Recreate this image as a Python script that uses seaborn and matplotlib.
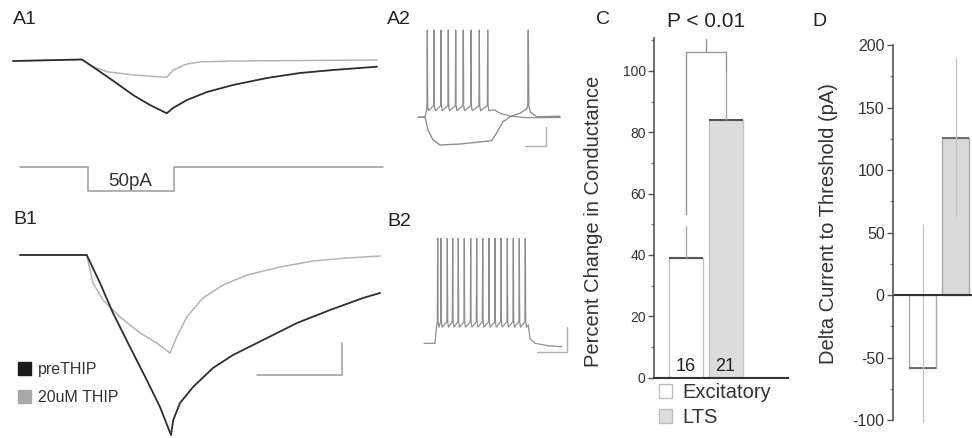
import matplotlib.pyplot as plt
import seaborn as sns
import pandas as pd
from matplotlib.patches import Patch
from matplotlib.ticker import MultipleLocator


# ======================================================
# Style
# ======================================================
sns.set_theme(style="white")
plt.rcParams["font.family"] = ["Liberation Sans", "DejaVu Sans"]
plt.rcParams["axes.unicode_minus"] = False


# ======================================================
# Data
# ======================================================
# A1: current-clamp response to a -50 pA step (time ms, delta V mV)
a1_pre_t = [0, 276, 348, 415, 480, 548, 615, 640, 696, 776, 880, 1016, 1148, 1280, 1456]
a1_pre_v = [0, 0.15, -1.07, -2.23, -3.4, -4.4, -5.23, -4.7, -3.9, -3.1, -2.4, -1.7, -1.2, -0.9, -0.57]
a1_thip_t = [0, 276, 321, 375, 481, 615, 641, 695, 748, 880, 1456]
a1_thip_v = [0, 0.15, -0.57, -1.07, -1.4, -1.63, -0.9, -0.3, -0.1, 0, 0.1]

# command step (time ms, current pA)
cmd_t = [28, 300, 300, 644, 644, 1480]
cmd_i = [0, 0, -50, -50, 0, 0]

# B1
b1_pre_t = [28, 295, 348, 400, 468, 535, 588, 632, 641, 668, 720, 800, 880, 1000, 1136, 1268, 1400, 1468]
b1_pre_v = [0, 0, -2.8, -5.8, -9.2, -12.5, -15.2, -18.0, -16.5, -14.8, -13.2, -11.3, -10.0, -8.5, -6.8, -5.5, -4.3, -3.8]
b1_thip_t = [28, 295, 320, 360, 428, 508, 575, 628, 655, 695, 760, 840, 936, 1068, 1200, 1336, 1468]
b1_thip_v = [0, 0, -2.8, -4.5, -6.2, -7.8, -8.8, -9.8, -8.2, -6.2, -4.3, -3.0, -2.0, -1.2, -0.6, -0.3, -0.1]

# A2: LTS cell, depolarising and hyperpolarising steps (ms, mV)
a2_on_t, a2_on_v = [0, 35, 42.5], [-60.2, -60, -55]
a2_spikes = [46.5, 80, 115, 151.5, 188.5, 226.5, 265, 306.5, 348.5]
a2_off_t = [370, 385, 410, 460, 543, 710]
a2_off_v = [-54.4, -54.4, -57, -59.2, -60.6, -60.4]
a2_hyp_t = [0, 35, 50, 75, 110, 210, 368, 393, 425, 460, 510, 543, 549, 551.5, 554, 562, 593, 710]
a2_hyp_v = [-60.2, -60, -70.4, -78.4, -82.4, -81.6, -79, -72.8, -63.8, -59.8, -57, -53.6, -51, 9.6, -51, -56, -59.8, -59.4]

# B2: excitatory cell, regular spiking
b2_on_t, b2_on_v = [-10, 45, 53.5], [-60, -60, -48]
b2_spikes = [58.5, 75, 106.5, 133.5, 161.5, 191.5, 223.5, 253.5, 283.5, 315,
             345, 375, 406.5, 436.5, 466.5, 496.5]
b2_off_t = [511.5, 520, 545, 611.5, 678.5]
b2_off_v = [-48.1, -56.75, -60, -61.6, -62.2]

# C / D: group summaries
cell_types = ["Excitatory", "LTS"]
cond_change = [39, 84]
cond_sem = [10.4, 16]
n_cells = [16, 21]
delta_current = [-58.5, 126]
delta_sem = [115.5, 63.5]


# ======================================================
# Figure helpers (pixel boxes -> figure fractions)
# ======================================================
W, H = 972, 438
fig = plt.figure(figsize=(W / 100, H / 100), dpi=100)


def box(x0, y0, x1, y1):
    return fig.add_axes([x0 / W, 1 - y1 / H, (x1 - x0) / W, (y1 - y0) / H])


def ftext(x, y, s, **kw):
    fig.text(x / W, 1 - y / H, s, **kw)


def trace(ax, t, v, color, lw):
    sns.lineplot(x=t, y=v, sort=False, estimator=None, color=color, lw=lw, ax=ax)


def spike_train(on_t, on_v, spikes, off_t, off_v, peak, thr, ahp):
    t, v = list(on_t), list(on_v)
    for s in spikes:
        t += [s - 2, s, s + 2, s + 6]
        v += [thr, peak, thr, ahp]
    return t + list(off_t), v + list(off_v)


BLACK = "#2e2e2e"
GRAY = "#b4b4b4"
TRACE = "#8f8f8f"

# ======================================================
# A1
# ======================================================
axA1 = box(0, 40, 400, 150)
trace(axA1, a1_thip_t, a1_thip_v, GRAY, 1.1)
trace(axA1, a1_pre_t, a1_pre_v, BLACK, 1.3)
axA1.set_xlim(-52, 1548)
axA1.set_ylim(-8.9, 2.1)
axA1.axis("off")

axCmd = box(0, 155, 400, 200)
trace(axCmd, cmd_t, cmd_i, "#9a9a9a", 1.1)
axCmd.text(468, -31, "50pA", ha="center", va="center", fontsize=13.5, color="#333")
axCmd.set_xlim(-52, 1548)
axCmd.set_ylim(-68.75, 25)
axCmd.axis("off")

# ======================================================
# B1
# ======================================================
axB1 = box(0, 235, 400, 440)
trace(axB1, b1_thip_t, b1_thip_v, GRAY, 1.1)
trace(axB1, b1_pre_t, b1_pre_v, BLACK, 1.3)
axB1.plot([975, 1315, 1315], [-12.0, -12.0, -8.8], color="#9a9a9a", lw=1.1)
axB1.set_xlim(-52, 1548)
axB1.set_ylim(-18.5, 2.0)
axB1.axis("off")
axB1.legend(handles=[Patch(facecolor="#1c1c1c", edgecolor="#1c1c1c"),
                     Patch(facecolor="#a9a9a9", edgecolor="#a9a9a9")],
            labels=["preTHIP", "20uM THIP"], loc="upper left",
            bbox_to_anchor=(18 / W, 1 - 362 / H), bbox_transform=fig.transFigure,
            frameon=False, fontsize=11.5, handlelength=0.8, handleheight=0.9,
            handletextpad=0.45, labelspacing=0.8, borderpad=0, borderaxespad=0,
            labelcolor="#333")

# ======================================================
# A2 / B2
# ======================================================
axA2 = box(410, 20, 570, 160)
t, v = spike_train(a2_on_t, a2_on_v, a2_spikes, a2_off_t, a2_off_v, 9.6, -51, -55)
trace(axA2, t, v, TRACE, 0.9)
trace(axA2, a2_hyp_t, a2_hyp_v, TRACE, 1.0)
axA2.plot([535, 640, 640], [-83.2, -83.2, -67.8], color="#b0b0b0", lw=1.0)
axA2.set_xlim(-40, 760)
axA2.set_ylim(-94.4, 17.6)
axA2.axis("off")

axB2 = box(415, 225, 575, 365)
t, v = spike_train(b2_on_t, b2_on_v, b2_spikes, b2_off_t, b2_off_v, 8.25, -46, -49.5)
trace(axB2, t, v, TRACE, 0.9)
axB2.plot([553.5, 703.5, 703.5], [-65.85, -65.85, -49.2], color="#b0b0b0", lw=1.0)
axB2.set_xlim(-55, 745)
axB2.set_ylim(-74.1, 16.9)
axB2.axis("off")

# ======================================================
# C: percent change in conductance
# ======================================================
axC = box(654, 38, 788, 377.7)
dfC = pd.DataFrame({"cell": cell_types, "change": cond_change})
sns.barplot(data=dfC, x="cell", y="change", hue="cell", palette=["white", "#dcdcdc"],
            width=0.86, edgecolor="#c4c4c4", linewidth=1, saturation=1,
            errorbar=None, legend=False, ax=axC)
xs = range(len(cell_types))
axC.hlines(cond_change, [x - 0.43 for x in xs], [x + 0.43 for x in xs], color="#555", lw=1.5)
axC.errorbar(list(xs), cond_change, yerr=[[0, 0], cond_sem], fmt="none",
             ecolor="#a8a8a8", elinewidth=1, capsize=0)
for x, n in zip(xs, n_cells):
    axC.text(x, 3.7, str(n), ha="center", va="center", fontsize=13, color="#222")

# significance bracket
axC.plot([0, 0, 1, 1], [53.5, 106, 106, 100], color="#999", lw=1, clip_on=False)
axC.plot([0.5, 0.5], [106, 110.5], color="#999", lw=1, clip_on=False)
axC.text(0.5, 116, "P < 0.01", ha="center", va="center", fontsize=15, color="#222")

axC.set_xlim(-0.81, 2.58)
axC.set_ylim(0, 110.7)
axC.yaxis.set_major_locator(MultipleLocator(20))
axC.yaxis.set_minor_locator(MultipleLocator(10))
axC.set_xticks([])
axC.set_xlabel("")
axC.set_ylabel("Percent Change in Conductance", fontsize=14.5, color="#333")
axC.yaxis.set_label_coords(-0.38, 0.461)
for s in ["top", "right"]:
    axC.spines[s].set_visible(False)
axC.spines["left"].set_color("#555")
axC.spines["left"].set_linewidth(1.2)
axC.spines["bottom"].set_color("#333")
axC.spines["bottom"].set_linewidth(1.5)
axC.tick_params(axis="y", which="major", direction="out", length=4, width=1,
                color="#555", labelsize=10, labelcolor="#333", left=True, pad=2)
axC.tick_params(axis="y", which="minor", direction="out", length=2.5, width=0.8,
                color="#777", left=True)
axC.legend(handles=[Patch(facecolor="white", edgecolor="#bdbdbd"),
                    Patch(facecolor="#dcdcdc", edgecolor="#bdbdbd")],
           labels=cell_types, loc="upper left",
           bbox_to_anchor=(659 / W, 1 - 383 / H), bbox_transform=fig.transFigure,
           frameon=False, fontsize=14.5, handlelength=0.65, handleheight=0.65,
           handletextpad=0.5, labelspacing=0.3, borderpad=0, borderaxespad=0,
           labelcolor="#333")

# ======================================================
# D: delta current to threshold
# ======================================================
axD = box(893, 45, 972, 422.5)
dfD = pd.DataFrame({"cell": cell_types, "delta": delta_current})
sns.barplot(data=dfD, x="cell", y="delta", hue="cell", palette=["white", "#d9d9d9"],
            width=0.79, edgecolor="#a8a8a8", linewidth=1, saturation=1,
            errorbar=None, legend=False, ax=axD)
axD.hlines(delta_current, [x - 0.395 for x in xs], [x + 0.395 for x in xs], color="#666", lw=1.3)
axD.errorbar(list(xs), delta_current, yerr=delta_sem, fmt="none",
             ecolor="#c4c4c4", elinewidth=0.9, capsize=0)
axD.axhline(0, color="#333", lw=1.5)
axD.set_xlim(-0.894, 1.5)
axD.set_ylim(-102, 200)
axD.yaxis.set_major_locator(MultipleLocator(50))
axD.yaxis.set_minor_locator(MultipleLocator(25))
axD.set_xticks([])
axD.set_xlabel("")
axD.set_ylabel("Delta Current to Threshold (pA)", fontsize=14.5, color="#333")
axD.yaxis.set_label_coords(-0.696, 0.528)
for s in ["top", "right", "bottom"]:
    axD.spines[s].set_visible(False)
axD.spines["left"].set_bounds(-100, 200)
axD.spines["left"].set_color("#555")
axD.spines["left"].set_linewidth(1.2)
axD.tick_params(axis="y", which="major", direction="out", length=4, width=1,
                color="#555", labelsize=11.5, labelcolor="#333", left=True, pad=2)
axD.tick_params(axis="y", which="minor", direction="out", length=2.5, width=0.8,
                color="#777", left=True)

# ======================================================
# Panel labels
# ======================================================
for x, y, s in [(13, 20, "A1"), (387, 20, "A2"), (13, 220, "B1"),
                (387, 222, "B2"), (596, 19, "C"), (812, 21, "D")]:
    ftext(x, y, s, ha="left", va="center", fontsize=14, color="#222")

fig.savefig("out.png", dpi=100, facecolor="white")
